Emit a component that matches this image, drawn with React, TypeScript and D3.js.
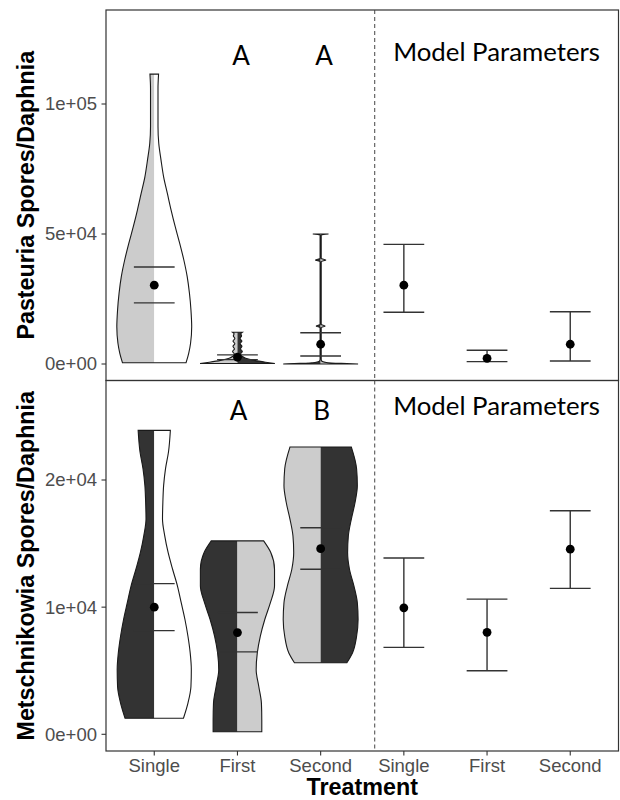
import React from "react";
import * as d3 from "d3";

// treatments, left three = observed violins, right three = model parameters
const treatments = ["Single", "First", "Second"];

// Pasteuria: observed means and error bars
const pastMean = [30300, 2600, 7600];
const pastLow = [23500, 1700, 3100];
const pastHigh = [37300, 3500, 12000];
// Pasteuria: model parameters
const pastModelMean = [30300, 2200, 7600];
const pastModelLow = [19900, 900, 1150];
const pastModelHigh = [46000, 5300, 20100];

// Metschnikowia: observed means and error bars
const metMean = [10000, 8000, 14600];
const metLow = [8150, 6480, 12980];
const metHigh = [11850, 9580, 16240];
// Metschnikowia: model parameters
const metModelMean = [9950, 8020, 14560];
const metModelLow = [6840, 5000, 11480];
const metModelHigh = [13870, 10630, 17580];

const pastLetters = ["", "A", "A"];
const metLetters = ["", "A", "B"];

const pastTicks = [0, 50000, 100000];
const metTicks = [0, 10000, 20000];

// violin outlines: [spores, relative density]
const pastSingleViolin = [[500, 0.85], [4100, 0.92], [8000, 0.97], [14300, 1], [20800, 0.98], [27200, 0.94], [33600, 0.88], [40000, 0.79], [46400, 0.68], [52800, 0.56], [59200, 0.45], [65600, 0.35], [72000, 0.25], [78500, 0.18], [84900, 0.12], [91300, 0.1], [100000, 0.1], [106000, 0.1], [111500, 0.115]];
const pastFirstViolin = [[200, 1], [700, 0.75], [1400, 0.45], [2200, 0.22], [3000, 0.12], [3800, 0.08], [4800, 0.13], [5800, 0.08], [6800, 0.12], [7800, 0.07], [8800, 0.12], [9800, 0.07], [10800, 0.11], [11600, 0.09], [12200, 0.13]];
const pastSecondViolin = [[0, 1], [250, 0.55], [600, 0.15], [1100, 0.03], [1800, 0.015], [14000, 0.015], [14600, 0.12], [15200, 0.015], [39400, 0.015], [40000, 0.14], [40600, 0.015], [49600, 0.015], [50000, 0.21]];
const metSingleViolin = [[1260, 0.78], [2450, 0.9], [3760, 0.98], [5080, 0.99], [6400, 0.96], [7710, 0.9], [9030, 0.82], [10350, 0.72], [11660, 0.62], [12980, 0.49], [14300, 0.37], [15610, 0.28], [16930, 0.22], [18250, 0.23], [19560, 0.25], [20880, 0.3], [22200, 0.38], [23900, 0.43]];
const metFirstViolin = [[205, 0.65], [1130, 0.65], [2450, 0.64], [3760, 0.57], [5080, 0.5], [6400, 0.53], [7710, 0.61], [9030, 0.73], [10350, 0.88], [11660, 0.99], [12980, 0.99], [14300, 0.89], [15210, 0.7]];
const metSecondViolin = [[5630, 0.7], [6400, 0.85], [7710, 0.96], [9030, 1], [10350, 0.98], [11660, 0.89], [12980, 0.77], [14300, 0.72], [15610, 0.74], [16930, 0.82], [18250, 0.92], [19560, 0.98], [20880, 0.96], [22590, 0.82]];

const LIGHT = "#cccccc";
const DARK = "#333333";
const pastFills = [[LIGHT, "#ffffff"], [LIGHT, DARK], [DARK, LIGHT]];
const metFills = [[DARK, "#ffffff"], [DARK, LIGHT], [LIGHT, DARK]];

const W = 620, H = 800;
const L = 106, R = 618.5, T = 10, M = 380.5, B = 751;
const SPLIT = 3.65; // dashed divider, in category units

const x = d3.scaleLinear().domain([0.42, 6.58]).range([L, R]);
const yPast = d3.scaleLinear().domain([0, 100000]).range([364, 104]);
const yMet = d3.scaleLinear().domain([0, 20000]).range([734.3, 480]);

const sci = (v: number) => {
  if (v === 0) return "0e+00";
  const e = Math.floor(Math.log10(v));
  const m = Math.round(v / 10 ** e);
  return `${m}e+${String(e).padStart(2, "0")}`;
};

const axisFont = "'Liberation Sans', Arial, sans-serif";
const labelFont = "Lato, 'Open Sans', sans-serif";

function Violin({ pts, pos, fills, y }: any) {
  const sorted = [...pts].sort((a: number[], b: number[]) => b[0] - a[0]);
  const cx = x(pos);
  const half = (d: number[]) => x(pos + 0.45 * d[1]) - cx;
  const base = () => d3.area<number[]>().curve(d3.curveMonotoneY).y((d) => y(d[0]));
  const left = base().x0((d) => cx - half(d)).x1(cx);
  const right = base().x0(cx).x1((d) => cx + half(d));
  const full = base().x0((d) => cx - half(d)).x1((d) => cx + half(d));
  return (
    <g>
      <path d={left(sorted) || ""} fill={fills[0]} />
      <path d={right(sorted) || ""} fill={fills[1]} />
      <path d={full(sorted) || ""} fill="none" stroke="#1a1a1a" strokeWidth={1.1} />
    </g>
  );
}

function ErrBar({ pos, mean, low, high, y, stem }: any) {
  const cx = x(pos);
  const hw = x(pos + 0.245) - cx;
  return (
    <g stroke="#333" strokeWidth={1.4}>
      {stem && <line x1={cx} x2={cx} y1={y(low)} y2={y(high)} />}
      <line x1={cx - hw} x2={cx + hw} y1={y(low)} y2={y(low)} />
      <line x1={cx - hw} x2={cx + hw} y1={y(high)} y2={y(high)} />
      <circle cx={cx} cy={y(mean)} r={4.4} fill="#000" stroke="none" />
    </g>
  );
}

function Panel({ top, bottom, y, ticks, violins, fills, mean, low, high, mMean, mLow, mHigh, letters, letterY, modelY, letterDx }: any) {
  return (
    <g>
      {violins.map((v: number[][], i: number) => (
        <Violin key={i} pts={v} pos={i + 1} fills={fills[i]} y={y} />
      ))}
      {treatments.map((t, i) => (
        <ErrBar key={"o" + t} pos={i + 1} mean={mean[i]} low={low[i]} high={high[i]} y={y} stem={false} />
      ))}
      {treatments.map((t, i) => (
        <ErrBar key={"m" + t} pos={i + 4} mean={mMean[i]} low={mLow[i]} high={mHigh[i]} y={y} stem={true} />
      ))}
      {letters.map((s: string, i: number) => (
        <text key={"l" + i} x={x(i + 1) + letterDx} y={letterY} textAnchor="middle" fontFamily={labelFont} fontSize={26} fill="#000">{s}</text>
      ))}
      <text x={(x(SPLIT) + R) / 2} y={modelY} textAnchor="middle" fontFamily={labelFont} fontSize={25.8} fill="#000">Model Parameters</text>
      {ticks.map((t: number) => (
        <g key={t}>
          <line x1={L - 4.5} x2={L} y1={y(t)} y2={y(t)} stroke="#333" strokeWidth={1.1} />
          <text x={97} y={y(t)} dy="0.35em" textAnchor="end" fontFamily={axisFont} fontSize={18.5} fill="#4d4d4d">{sci(t)}</text>
        </g>
      ))}
      <rect x={L} y={top} width={R - L} height={bottom - top} fill="none" stroke="#333" strokeWidth={1.2} />
      <line x1={x(SPLIT)} x2={x(SPLIT)} y1={top} y2={bottom} stroke="#444" strokeWidth={1} strokeDasharray="4,3" />
    </g>
  );
}

export default function App() {
  const cats = [...treatments, ...treatments];
  return (
    <svg width={W} height={H} style={{ position: "absolute", left: 0, top: 0, background: "#fff" }}>
      <Panel top={T} bottom={M} y={yPast} ticks={pastTicks}
        violins={[pastSingleViolin, pastFirstViolin, pastSecondViolin]} fills={pastFills}
        mean={pastMean} low={pastLow} high={pastHigh}
        mMean={pastModelMean} mLow={pastModelLow} mHigh={pastModelHigh}
        letters={pastLetters} letterY={65} modelY={61} letterDx={3.5} />
      <Panel top={M} bottom={B} y={yMet} ticks={metTicks}
        violins={[metSingleViolin, metFirstViolin, metSecondViolin]} fills={metFills}
        mean={metMean} low={metLow} high={metHigh}
        mMean={metModelMean} mLow={metModelLow} mHigh={metModelHigh}
        letters={metLetters} letterY={420} modelY={415} letterDx={1} />
      {cats.map((c, i) => (
        <g key={i}>
          <line x1={x(i + 1)} x2={x(i + 1)} y1={B} y2={B + 4.5} stroke="#333" strokeWidth={1.1} />
          <text x={x(i + 1)} y={771.5} textAnchor="middle" fontFamily={axisFont} fontSize={18.5} fill="#4d4d4d">{c}</text>
        </g>
      ))}
      <text x={(L + R) / 2} y={795} textAnchor="middle" fontFamily={axisFont} fontWeight="bold" fontSize={23.3} fill="#000">Treatment</text>
      <text transform={`translate(34,${(T + M) / 2}) rotate(-90)`} textAnchor="middle" fontFamily={axisFont} fontWeight="bold" fontSize={23.3} fill="#000">Pasteuria Spores/Daphnia</text>
      <text transform={`translate(34,${(M + B) / 2}) rotate(-90)`} textAnchor="middle" fontFamily={axisFont} fontWeight="bold" fontSize={23.3} fill="#000">Metschnikowia Spores/Daphnia</text>
    </svg>
  );
}
